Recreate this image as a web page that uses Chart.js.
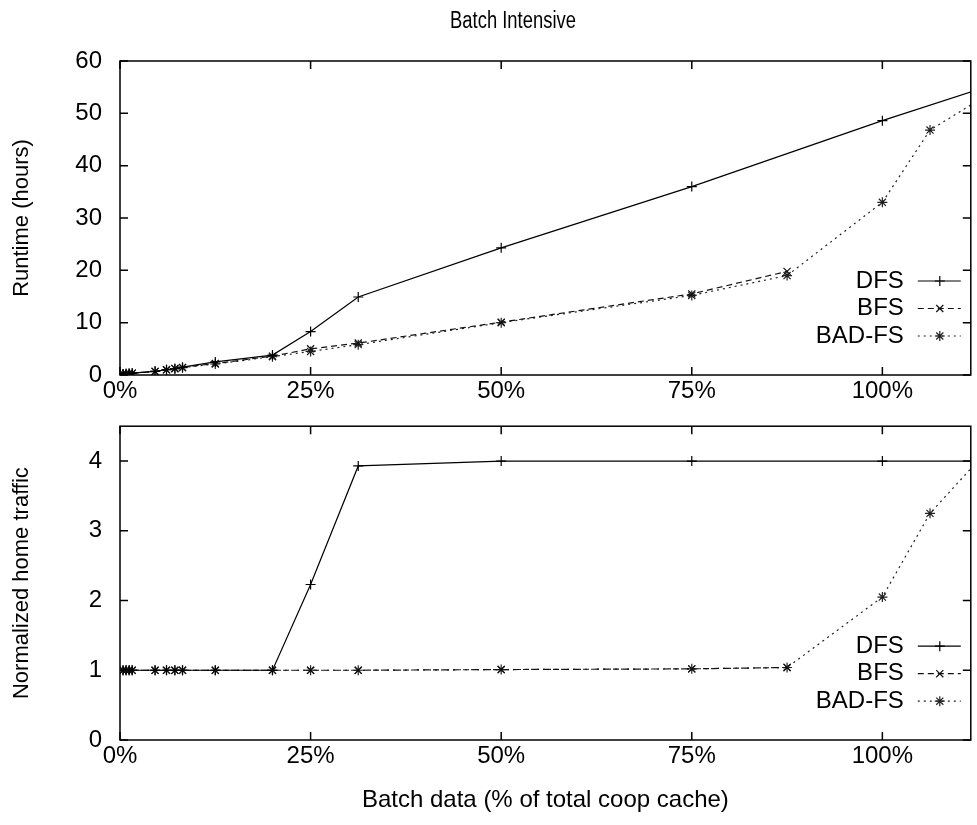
<!DOCTYPE html>
<html>
<head>
<meta charset="utf-8">
<title>Batch Intensive</title>
<script src="https://cdn.jsdelivr.net/npm/chart.js@4.4.1/dist/chart.umd.min.js"></script>
<style>
  body { margin: 0; background: #fff; }
  #wrap { position: relative; width: 977px; height: 825px; }
  canvas { position: absolute; left: 0; }
</style>
</head>
<body>
<div id="wrap">
  <canvas id="runtime" width="977" height="420" style="top:0"></canvas>
  <canvas id="traffic" width="977" height="405" style="top:420px"></canvas>
</div>
<script>
const FONT = '"Liberation Sans", Arial, Helvetica, sans-serif';

// batch data, % of total coop cache
const dfsX   = [0.4, 0.8, 1.2, 1.6, 4.6, 6.1, 7.2, 8.2, 12.5, 20, 25, 31.25, 50, 75, 100, 112.5];
const bfsX   = [0.4, 0.8, 1.2, 1.6, 4.6, 6.1, 7.2, 8.2, 12.5, 20, 25, 31.25, 50, 75, 87.5];
const badfsX = [0.4, 0.8, 1.2, 1.6, 4.6, 6.1, 7.2, 8.2, 12.5, 20, 25, 31.25, 50, 75, 87.5, 100, 106.25, 112.5];

// runtime (hours)
const dfsRuntime   = [0.2, 0.25, 0.3, 0.35, 0.7, 1.0, 1.2, 1.5, 2.5, 3.8, 8.3, 14.9, 24.3, 36.0, 48.6, 54.5];
const bfsRuntime   = [0.2, 0.25, 0.3, 0.35, 0.7, 1.0, 1.25, 1.45, 2.2, 3.6, 5.0, 6.1, 10.1, 15.5, 19.8];
const badfsRuntime = [0.2, 0.25, 0.3, 0.35, 0.7, 1.0, 1.2, 1.4, 2.1, 3.5, 4.5, 5.8, 10.0, 15.2, 19.0, 33.0, 46.8, 52.4];

// normalized home traffic
const dfsTraffic   = [1, 1, 1, 1, 1, 1, 1, 1, 1, 1, 2.23, 3.93, 4.0, 4.0, 4.0, 4.0];
const bfsTraffic   = [1, 1, 1, 1, 1, 1, 1, 1, 1, 1, 1.0, 1.0, 1.01, 1.02, 1.04];
const badfsTraffic = [1, 1, 1, 1, 1, 1, 1, 1, 1, 1, 1.0, 1.0, 1.01, 1.02, 1.04, 2.05, 3.25, 4.0];

const xTicks = [0, 25, 50, 75, 100];
const runtimeTicks = [0, 10, 20, 30, 40, 50, 60];
const trafficTicks = [0, 1, 2, 3, 4];

const pts = (xs, ys) => xs.map((x, i) => ({ x: x, y: ys[i] }));

const makeDatasets = (dfs, bfs, badfs) => [
    {
        label: "DFS", data: pts(dfsX, dfs),
        borderColor: "#000", borderWidth: 1.2, borderDash: [],
        pointStyle: "cross", pointRadius: 5, pointBorderColor: "#000", pointBorderWidth: 1.2
    },
    {
        label: "BFS", data: pts(bfsX, bfs),
        borderColor: "#111", borderWidth: 1.2, borderDash: [6, 4],
        pointStyle: "crossRot", pointRadius: 5, pointBorderColor: "#111", pointBorderWidth: 1.2
    },
    {
        label: "BAD-FS", data: pts(badfsX, badfs),
        borderColor: "#222", borderWidth: 1.2, borderDash: [2, 4],
        pointStyle: "star", pointRadius: 5, pointBorderColor: "#222", pointBorderWidth: 1.2
    }
];

// hand-drawn marker for the key samples
function drawMarker(ctx, style, x, y, r) {
    ctx.beginPath();
    if (style === "cross" || style === "star") {
        ctx.moveTo(x - r, y); ctx.lineTo(x + r, y);
        ctx.moveTo(x, y - r); ctx.lineTo(x, y + r);
    }
    if (style === "crossRot" || style === "star") {
        const d = r * Math.SQRT1_2;
        ctx.moveTo(x - d, y - d); ctx.lineTo(x + d, y + d);
        ctx.moveTo(x - d, y + d); ctx.lineTo(x + d, y - d);
    }
    ctx.stroke();
}

// closed border with inward ticks on all four sides
const framePlugin = {
    id: "frame",
    afterDraw(chart) {
        const { ctx, chartArea: a, scales } = chart;
        ctx.save();
        ctx.strokeStyle = "#000";
        ctx.lineWidth = 1.5;
        ctx.strokeRect(a.left, a.top, a.right - a.left, a.bottom - a.top);
        ctx.beginPath();
        for (let t of scales.x.ticks) {
            const px = scales.x.getPixelForValue(t.value);
            ctx.moveTo(px, a.bottom); ctx.lineTo(px, a.bottom - 8);
            ctx.moveTo(px, a.top); ctx.lineTo(px, a.top + 8);
        }
        for (let t of scales.y.ticks) {
            const py = scales.y.getPixelForValue(t.value);
            ctx.moveTo(a.left, py); ctx.lineTo(a.left + 8, py);
            ctx.moveTo(a.right, py); ctx.lineTo(a.right - 8, py);
        }
        ctx.stroke();
        ctx.restore();
    }
};

// key in the lower right: right-aligned text, then sample line + marker
const keyPlugin = {
    id: "key",
    afterDatasetsDraw(chart) {
        const { ctx, chartArea: a } = chart;
        ctx.save();
        ctx.font = "24px " + FONT;
        ctx.textAlign = "right";
        ctx.textBaseline = "middle";
        chart.data.datasets.forEach((ds, i) => {
            const y = a.top + 220 + i * 27.5;
            ctx.fillStyle = "#000";
            ctx.fillText(ds.label, a.right - 67, y);
            ctx.strokeStyle = ds.borderColor;
            ctx.lineWidth = ds.borderWidth;
            ctx.setLineDash(ds.borderDash);
            ctx.beginPath();
            ctx.moveTo(a.right - 53, y);
            ctx.lineTo(a.right - 10, y);
            ctx.stroke();
            ctx.setLineDash([]);
            drawMarker(ctx, ds.pointStyle, a.right - 31, y, ds.pointRadius);
        });
        ctx.restore();
    }
};

// title, set slightly condensed like the original postscript font
const titlePlugin = {
    id: "plotTitle",
    afterDraw(chart) {
        const ctx = chart.ctx;
        ctx.save();
        ctx.translate(513, 22);
        ctx.scale(0.8, 1);
        ctx.font = "23px " + FONT;
        ctx.fillStyle = "#000";
        ctx.textAlign = "center";
        ctx.textBaseline = "middle";
        ctx.fillText("Batch Intensive", 0, 0);
        ctx.restore();
    }
};

function makeOptions(yMax, yTicks, yTitle, xTitle, topPad, xAxisHeight) {
    return {
        responsive: false,
        animation: false,
        layout: { padding: { top: topPad, right: 2, left: 0, bottom: 0 } },
        elements: { line: { tension: 0 } },
        plugins: { legend: { display: false }, tooltip: { enabled: false } },
        scales: {
            x: {
                type: "linear", min: 0, max: 111.6,
                grid: { display: false, drawTicks: false },
                border: { display: false },
                afterBuildTicks: (scale) => { scale.ticks = xTicks.map(v => ({ value: v })); },
                afterFit: (scale) => {
                    scale.height = xAxisHeight;
                    scale.paddingLeft = 0;
                    scale.paddingRight = 0;
                },
                ticks: {
                    padding: 2, color: "#000", maxRotation: 0,
                    font: { family: FONT, size: 24 },
                    callback: (v) => v + "%"
                },
                title: {
                    display: !!xTitle, text: xTitle, color: "#000",
                    font: { family: FONT, size: 24 },
                    padding: { top: 0, bottom: 10 }
                }
            },
            y: {
                type: "linear", min: 0, max: yMax,
                grid: { display: false, drawTicks: false },
                border: { display: false },
                afterBuildTicks: (scale) => { scale.ticks = yTicks.map(v => ({ value: v })); },
                afterFit: (scale) => {
                    scale.width = 120;
                    scale.paddingTop = 0;
                    scale.paddingBottom = 0;
                },
                ticks: {
                    padding: 18, color: "#000",
                    font: { family: FONT, size: 24 }
                },
                title: {
                    display: true, text: yTitle, color: "#000",
                    font: { family: FONT, size: 22 },
                    padding: { top: 9, bottom: 0 }
                }
            }
        }
    };
}

new Chart(document.getElementById("runtime").getContext("2d"), {
    type: "line",
    data: { datasets: makeDatasets(dfsRuntime, bfsRuntime, badfsRuntime) },
    options: makeOptions(60, runtimeTicks, "Runtime (hours)", "", 61, 45),
    plugins: [framePlugin, keyPlugin, titlePlugin]
});

new Chart(document.getElementById("traffic").getContext("2d"), {
    type: "line",
    data: { datasets: makeDatasets(dfsTraffic, bfsTraffic, badfsTraffic) },
    options: makeOptions(4.5, trafficTicks, "Normalized home traffic", "Batch data (% of total coop cache)", 6, 85),
    plugins: [framePlugin, keyPlugin]
});
</script>
</body>
</html>
